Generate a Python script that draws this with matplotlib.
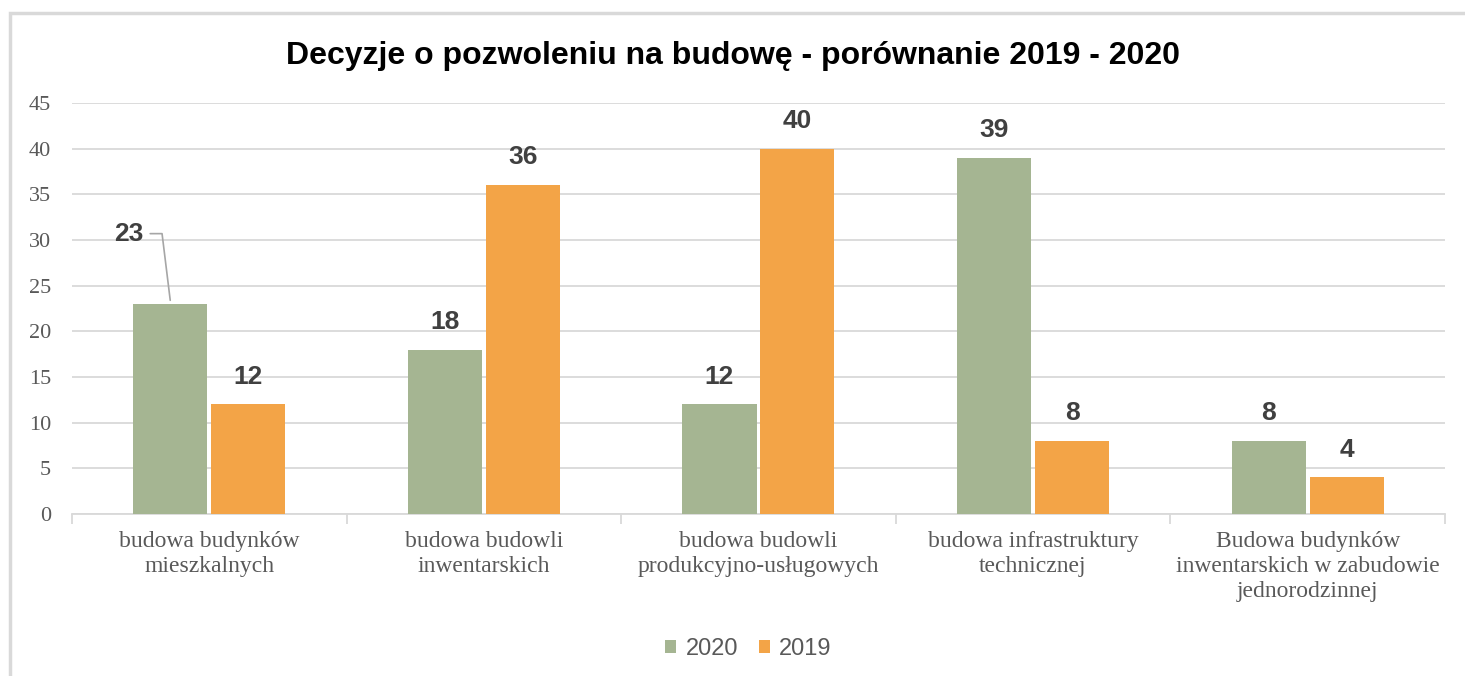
import numpy as np
from matplotlib import pyplot as plt
from matplotlib.patches import Rectangle

categories = ["budowa budynków\nmieszkalnych",
              "budowa budowli\ninwentarskich",
              "budowa budowli\nprodukcyjno-usługowych",
              "budowa infrastruktury\ntechnicznej",
              "Budowa budynków\ninwentarskich w zabudowie\njednorodzinnej"]
values_2020 = [23, 18, 12, 39, 8]
values_2019 = [12, 36, 40, 8, 4]

green = '#A5B592'
orange = '#F3A447'
grid_c = '#D9D9D9'
text_c = '#595959'

fig = plt.figure(figsize=(14.65, 6.76), dpi=100)
ax = fig.add_axes([0.0491, 0.2396, 0.9372, 0.608])

# chart border like the excel frame
fig.patches.append(Rectangle((10 / 1465, -0.05), 1.2, 1 - 13 / 676 + 0.05,
                             transform=fig.transFigure, fill=False,
                             edgecolor='#D9D9D9', linewidth=2.5))

x = np.arange(len(categories))
w = 0.27
off = 0.142
b1 = ax.bar(x - off, values_2020, w, color=green, label='2020', zorder=3)
b2 = ax.bar(x + off, values_2019, w, color=orange, label='2019', zorder=3)

lab_font = dict(fontsize=19, fontweight='bold', color='#404040', family='Liberation Sans')
for i, v in enumerate(values_2020):
    if i == 0:
        # label pulled out with a leader line
        ax.annotate(str(v), xy=(x[i] - off, v + 0.4), xytext=(-30, 48),
                    textcoords='offset points', ha='center', va='center',
                    arrowprops=dict(arrowstyle='-', color='#A6A6A6', lw=1.2,
                                    shrinkA=3, shrinkB=0,
                                    connectionstyle='angle,angleA=0,angleB=97,rad=0'),
                    **lab_font)
    else:
        ax.annotate(str(v), xy=(x[i] - off, v), xytext=(0, 20),
                    textcoords='offset points', ha='center', va='center', **lab_font)
for i, v in enumerate(values_2019):
    ax.annotate(str(v), xy=(x[i] + off, v), xytext=(0, 20),
                textcoords='offset points', ha='center', va='center', **lab_font)

ax.set_xlim(-0.5, len(categories) - 0.5)
ax.set_ylim(0, 45)
ax.set_yticks(np.arange(0, 46, 5))
ax.yaxis.grid(True, color=grid_c, linewidth=1.3, zorder=0)
ax.set_axisbelow(True)

ax.set_xticks(x)
ax.set_xticklabels(categories, fontsize=17, family='Liberation Serif', color=text_c,
                   linespacing=1.27)
ax.set_xticks(np.arange(-0.5, len(categories), 1), minor=True)
ax.tick_params(axis='x', which='major', length=0, pad=12)
ax.tick_params(axis='x', which='minor', length=7, color=grid_c, width=1.3)
ax.tick_params(axis='y', length=0, pad=15, labelsize=16, labelcolor=text_c)
for lab in ax.get_yticklabels():
    lab.set_family('Liberation Serif')

for s in ['top', 'right', 'left']:
    ax.spines[s].set_visible(False)
ax.spines['bottom'].set_color(grid_c)
ax.spines['bottom'].set_linewidth(1.3)

fig.suptitle("Decyzje o pozwoleniu na budowę - porównanie 2019 - 2020", y=0.94,
             fontsize=23, fontweight='bold', family='Liberation Sans', color='black')

leg = fig.legend(handles=[b1, b2], loc='center', bbox_to_anchor=(0.511, 0.04), ncol=2,
                 frameon=False, prop={'family': 'Liberation Sans', 'size': 17},
                 handlelength=0.45, handleheight=0.45, columnspacing=0.9, handletextpad=0.4)
for t in leg.get_texts():
    t.set_color(text_c)

fig.savefig('out.png', dpi=100)
